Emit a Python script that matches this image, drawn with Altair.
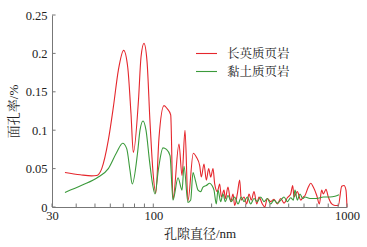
import altair as alt
import pandas as pd

# Pore diameter (nm) and areal porosity (%)
red_name = "长英质页岩"
green_name = "黏土质页岩"

red_x = [35, 42, 48, 51, 54.2, 58.6, 62.2, 66, 70.3, 73.8, 76.7, 78.9, 83.9, 86.4, 89.5,
         92.8, 96.2, 99.7, 103, 107, 113.6, 118, 123, 126.4, 135.7, 140.7, 145.8, 151,
         160.9, 166.8, 173.6, 177, 182.7, 187.8, 193.2, 197.9, 203.4, 207.5, 214, 220.2,
         224.5, 231.8, 235.4, 243, 251, 258, 263, 271.5, 279.3, 284.7, 294, 303.6, 312,
         320.7, 331.2, 342, 351.4, 365.5, 376, 387.8, 403.8, 420, 436.8, 454.8, 473, 492,
         512, 524.4, 532.7, 554, 577, 595, 607, 631.5, 650, 670, 698, 720, 740, 755, 779,
         801, 834, 867, 902, 939, 965, 988, 1000]
red_y = [0.045, 0.042, 0.0405, 0.041, 0.050, 0.087, 0.130, 0.178, 0.204, 0.182, 0.122, 0.071,
         0.140, 0.195, 0.213, 0.190, 0.110, 0.045, 0.018, 0.090, 0.132, 0.128, 0.120, 0.010,
         0.082, 0.041, 0.100, 0.008, 0.070, 0.065, 0.054, 0.039, 0.056, 0.035, 0.050, 0.039,
         0.050, 0.030, 0.020, 0.030, 0.013, 0.022, 0.011, 0.026, 0.007, 0.017, 0.002, 0.017,
         0.035, 0.009, 0.013, 0.004, 0.017, 0.009, 0.020, 0.004, 0.013, 0.004, 0.000, 0.011,
         0.007, 0.010, 0.004, 0.011, 0.005, 0.012, 0.017, 0.028, 0.013, 0.020, 0.009, 0.013,
         0.015, 0.026, 0.031, 0.026, 0.015, 0.004, 0.022, 0.017, 0.023, 0.013, 0.004, 0.002,
         0.002, 0.027, 0.028, 0.022, 0.000]

green_x = [35, 43, 52, 58.6, 64.7, 69.5, 72.9, 75.8, 77.9, 82.9, 85.4, 88.5, 91.7, 95.6, 99.1,
           102, 106.4, 112.2, 117, 122, 126.4, 134.2, 140.7, 144.1, 151, 156, 160.3, 164.8,
           170.2, 175.7, 180.6, 187.8, 195.5, 201, 205.8, 211.5, 215.8, 222.8, 229, 235.4,
           243, 252.8, 263, 273.8, 284.7, 294, 305.8, 318.4, 331.2, 344.4, 358.6, 372.9,
           387.8, 403.8, 420, 436.8, 454.8, 473, 492, 512, 528.2, 539, 554, 572, 590.6, 607,
           644, 698, 755, 817, 867, 909]
green_y = [0.019, 0.0285, 0.039, 0.050, 0.071, 0.083, 0.076, 0.048, 0.030, 0.070, 0.100, 0.112,
           0.100, 0.060, 0.030, 0.017, 0.050, 0.077, 0.075, 0.067, 0.009, 0.038, 0.022, 0.053,
           0.006, 0.009, 0.045, 0.035, 0.022, 0.020, 0.026, 0.028, 0.031, 0.028, 0.022, 0.004,
           0.022, 0.007, 0.017, 0.007, 0.015, 0.007, 0.013, 0.004, 0.013, 0.007, 0.013, 0.004,
           0.011, 0.007, 0.013, 0.007, 0.011, 0.004, 0.009, 0.005, 0.009, 0.013, 0.007, 0.012,
           0.009, 0.022, 0.009, 0.017, 0.011, 0.013, 0.011, 0.011, 0.013, 0.013, 0.014, 0.016]

x_major = [30, 100, 1000]
x_minor = [40, 50, 60, 70, 80, 90, 200, 300, 400, 500, 600, 700, 800, 900]
y_ticks = [0, 0.05, 0.1, 0.15, 0.2, 0.25]

df = pd.concat([
    pd.DataFrame({"d": red_x, "p": red_y, "s": red_name, "o": range(len(red_x))}),
    pd.DataFrame({"d": green_x, "p": green_y, "s": green_name, "o": range(len(green_x))}),
])

serif = "Liberation Serif, Noto Serif CJK SC, Noto Sans CJK SC"
xscale = alt.Scale(type="log", domain=[30, 1000], nice=False)
yscale = alt.Scale(domain=[0, 0.25], nice=False)

xaxis = alt.Axis(values=x_major, format="d", title="孔隙直径/nm",
                 ticks=False, tickSize=0, labelPadding=2, labelFlush=False,
                 labelOverlap=False,
                 titleX=147.5, titleY=26, titleBaseline="middle", titleAlign="center")
yaxis = alt.Axis(values=y_ticks, format="~g", title="面孔率/%",
                 ticks=False, tickSize=0, labelPadding=5, labelOverlap=False,
                 labelFlush=False,
                 titleX=-39, titleY=96, titleBaseline="middle",
                 titleAlign="center", titleAngle=-90)

lines = alt.Chart(df).mark_line(strokeWidth=1.1, interpolate="monotone").encode(
    x=alt.X("d:Q", scale=xscale, axis=xaxis),
    y=alt.Y("p:Q", scale=yscale, axis=yaxis),
    color=alt.Color("s:N", scale=alt.Scale(domain=[red_name, green_name],
                                           range=["#e5262c", "#3b9a3b"]),
                    legend=alt.Legend(title=None, orient="none", legendX=143, legendY=27,
                                      symbolType="stroke", symbolSize=440,
                                      symbolStrokeWidth=1.1, labelOffset=9,
                                      rowPadding=0, padding=0, labelFontSize=12.5,
                                      labelFont=serif, labelColor="#222")),
    order="o:Q",
)

xt_df = pd.DataFrame({"d": x_major + x_minor})
xticks = alt.Chart(xt_df).mark_rule(color="#777", strokeWidth=1).encode(
    x=alt.X("d:Q", scale=xscale, axis=xaxis),
    y=alt.YDatum(0, scale=yscale, axis=yaxis),
    y2=alt.datum(0.0045),
)

yt_df = pd.DataFrame({"p": y_ticks})
yticks = alt.Chart(yt_df).mark_rule(color="#777", strokeWidth=1).encode(
    y=alt.Y("p:Q", scale=yscale, axis=yaxis),
    x=alt.XDatum(30, scale=xscale, axis=xaxis),
    x2=alt.datum(31.3),
)

chart = alt.layer(lines, xticks, yticks).properties(
    width=295, height=192,
    padding={"left": 52, "top": 15, "right": 20, "bottom": 40},
    autosize=alt.AutoSizeParams(type="none"),
).configure_view(stroke=None).configure_axis(
    grid=False, domainColor="#777", domainWidth=1,
    labelFont=serif, labelFontSize=12.5, labelColor="#222",
    titleFont=serif, titleFontSize=13, titleColor="#222", titleFontWeight="normal",
)

chart.save("out.html", embed_options={"renderer": "svg", "actions": False})
